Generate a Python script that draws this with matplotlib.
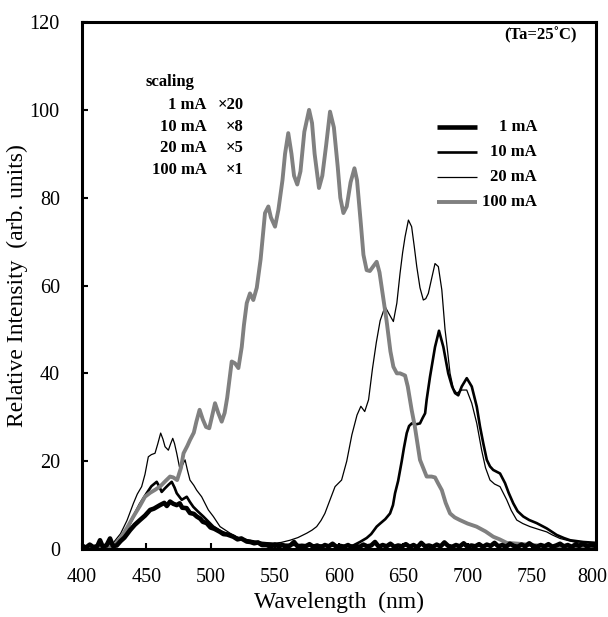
import matplotlib
matplotlib.use("Agg")
import matplotlib.pyplot as plt
from matplotlib.transforms import ScaledTranslation

plt.rcParams["font.family"] = ["Liberation Serif", "DejaVu Serif"]

# spectra read at irregular wavelengths (nm) -> relative intensity
wl_1mA = [400, 403, 406, 409, 412, 414, 416, 419, 421.8, 424, 427, 430, 433, 437.4, 441, 445.1,
          449, 453, 456, 460.7, 464, 466, 468.5, 471, 473.7, 476, 478, 481.4, 484, 487, 489.3,
          492, 494, 497, 500, 503, 507.4, 510, 513, 517.7, 521, 524, 528.2, 531, 534, 537, 540,
          543.7, 547, 550, 553, 556, 559, 562, 565, 568, 571, 574, 577, 580, 583, 586, 589, 592,
          595, 598, 601, 604, 607, 610, 613, 616, 619, 622, 625, 628, 631, 634, 637, 640, 643,
          646, 649, 652, 655, 658, 661, 664, 667, 670, 673, 676, 679, 682, 685, 688, 691, 694,
          697, 700, 703, 706, 709, 712, 715, 718, 721, 724, 727, 730, 733, 736, 739, 742, 745,
          748, 751, 754, 757, 760, 763, 766, 769, 772, 775, 778, 781, 784, 787, 790, 793, 796, 800]
int_1mA = [0.8, 0.3, 1.0, 0.4, 0.7, 2.0, 0.6, 0.8, 2.4, 0.7, 0.8, 1.8, 2.6, 4.3, 5.5, 6.6,
           7.6, 8.9, 9.2, 10.0, 10.5, 9.8, 10.8, 10.3, 10.0, 10.4, 9.4, 9.3, 8.2, 8.0, 7.4,
           6.9, 6.2, 5.9, 4.9, 4.6, 3.9, 3.4, 3.3, 2.8, 2.2, 2.4, 1.7, 1.6, 1.3, 1.5, 0.9,
           0.9, 0.5, 1.0, 0.6, 0.9, 0.4, 0.8, 1.6, 0.5, 0.7, 0.6, 1.1, 0.5, 0.8, 0.4, 0.9, 0.6,
           1.2, 0.5, 0.7, 0.5, 0.9, 0.4, 0.7, 0.5, 1.0, 0.6, 0.8, 1.6, 0.5, 0.9, 0.6, 1.2, 0.5,
           0.8, 0.6, 1.1, 0.5, 0.9, 0.4, 1.4, 0.6, 0.8, 0.5, 1.0, 0.6, 1.5, 0.7, 0.5, 0.9, 0.6,
           1.3, 0.5, 0.8, 0.6, 1.1, 0.5, 1.0, 0.7, 1.4, 0.6, 0.9, 0.5, 1.2, 0.7, 0.5, 1.0, 0.6,
           1.3, 0.7, 0.5, 0.9, 0.6, 1.1, 0.5, 0.8, 1.2, 0.6, 0.9, 0.5, 1.0, 0.7, 1.2, 0.6, 0.9, 0.7]

wl_10mA = [400, 410, 418, 425.7, 430, 435, 440, 445, 450.3, 454, 458.1, 460, 462, 464.5, 467.2,
           469.8, 472, 473.7, 477.6, 481.5, 484, 486.6, 490, 494.4, 502.2, 508, 515.2, 521,
           528.2, 540, 555, 570, 585, 600, 611, 616.3, 621.5, 625, 629.3, 632, 636, 639.7, 642,
           643.6, 646, 648.8, 650.5, 652.7, 654.5, 656.6, 660, 663, 665, 667, 668.2, 670.8,
           674.7, 677.8, 681.2, 685, 688, 690.3, 692.8, 695.5, 699.4, 703.3, 707.2, 709.7,
           712.3, 715, 717.5, 720, 725.3, 729.2, 732, 735.6, 739, 743.4, 748, 753.8, 761.6,
           769.4, 775, 779.8, 790, 800]
int_10mA = [0.4, 0.5, 0.6, 0.6, 2.2, 4.5, 7.4, 10.2, 12.7, 14.3, 15.3, 14.3, 13.0, 13.8, 14.6,
            15.3, 14.0, 12.7, 11.2, 11.9, 10.7, 9.6, 8.6, 7.4, 5.1, 4.0, 3.2, 2.5,
            2.0, 1.4, 1.0, 0.9, 0.8, 0.7, 0.8, 1.6, 2.5, 3.4, 5.1, 5.8, 6.8, 8.1, 10.0,
            12.7, 15.5, 20.0, 23.0, 26.4, 28.0, 28.6, 28.4, 28.6, 29.8, 30.9, 34.0, 39.2,
            46.0, 49.7, 46.0, 40.0, 37.0, 35.5, 35.0, 37.0, 38.9, 37.0, 32.4, 27.9,
            24.0, 20.3, 18.8, 18.0, 17.2, 15.0, 12.8, 10.4, 8.6, 7.4, 6.6, 5.9, 4.7,
            3.2, 2.5, 2.0, 1.6, 1.4]

wl_20mA = [400, 410, 418, 424, 430, 435, 440, 443, 446.4, 449, 451.6, 454, 456.8, 459, 461.2,
           463, 464.6, 467.2, 469, 470.6, 472, 473.7, 476.3, 478, 480.2, 482, 484, 487, 489.2,
           493.1, 498.3, 502.2, 507.4, 515.2, 521, 528.2, 535, 542, 548.9, 555, 561.9, 568,
           574.9, 579, 582.6, 586, 589, 593, 596.9, 602, 606, 610, 614, 617, 620, 623, 626,
           629, 632, 635.8, 639, 642.3, 645, 647.5, 649.5, 651.4, 654, 656.5, 658.5, 660.5,
           663, 665.6, 667.5, 669.5, 672, 674.7, 677.3, 680, 682.5, 684.5, 686.4, 689, 691.6,
           695.5, 699.4, 703.3, 707.2, 711, 714, 717.5, 721, 725.3, 730.5, 734, 738.3, 743,
           748.6, 755, 761.6, 766, 772, 780, 787.5, 795, 800]
int_20mA = [0.3, 0.5, 0.5, 1.3, 3.5, 6.5, 10.4, 12.5, 14.2, 17.0, 21.0, 21.5, 21.8, 24.0, 26.4,
            25.0, 23.3, 22.5, 24.0, 25.2, 24.0, 21.8, 18.0, 19.0, 20.3, 18.0, 15.7, 14.5, 13.4,
            11.9, 8.9, 7.4, 5.1, 3.6, 2.7, 2.0, 1.6, 1.4, 1.3, 1.5, 2.0, 2.6,
            3.6, 4.3, 5.1, 6.5, 8.1, 11.2, 14.2, 15.7, 20.0, 26.0, 30.5, 32.5, 31.3, 34.0, 41.0,
            47.0, 52.0, 55.2, 53.5, 51.8, 56.0, 62.8, 67.5, 71.1, 74.9, 73.4, 69.0, 64.3,
            59.5, 56.7, 57.0, 58.2, 61.5, 65.0, 64.3, 59.0, 50.0, 45.0, 40.0, 36.5, 35.5,
            36.2, 36.2, 33.2, 28.6, 22.5, 18.5, 15.7, 14.8, 14.2, 11.2, 8.8, 6.6, 5.8,
            5.1, 4.5, 3.9, 3.2, 2.4, 1.8, 1.3, 1.1, 1.0]

wl_100mA = [400, 410, 420, 425, 430, 435, 440, 445, 449, 453, 457, 461, 465, 468.5, 471, 474,
            477, 479, 482, 484, 487, 489, 491.5, 494, 496.5, 499, 501, 503.5, 506, 508.7, 511,
            513, 516.5, 519, 521.7, 524.3, 526, 528.2, 530.7, 533.3, 536, 539, 542.4, 545, 547,
            550.2, 552.8, 556, 558, 560.5, 563, 565, 567.5, 570, 573, 576.7, 579, 581, 584.4,
            587, 590, 593, 596, 599, 601, 603.4, 606, 609, 612, 614, 617, 619, 621.5, 624, 627,
            629.3, 631.5, 634.5, 637, 640, 642.3, 645, 647.5, 651.4, 653.5, 656.5, 659, 663,
            668.2, 672, 674.7, 677, 680, 683, 686.4, 690, 694, 700, 707, 714, 720, 725, 730.5,
            740, 750, 760, 770, 780, 790, 800]
int_100mA = [0.3, 0.5, 0.4, 0.8, 2.5, 4.8, 7.4, 9.8, 11.9, 12.8, 13.5, 14.3, 15.5, 16.5, 16.3, 15.7,
             18.5, 21.8, 23.5, 24.8, 26.5, 29.0, 31.7, 29.5, 27.8, 27.5, 30.0, 33.2, 31.0, 29.0, 31.0,
             34.5, 42.7, 42.3, 41.2, 46.0, 51.0, 56.0, 58.2, 56.7, 59.5, 66.0, 76.5, 78.0, 75.5,
             73.4, 77.2, 84.0, 90.0, 94.7, 90.0, 85.0, 83.0, 86.0, 95.0, 100.0, 97.0, 90.0, 82.2,
             85.0, 92.0, 99.6, 96.0, 87.0, 80.0, 76.5, 78.0, 83.5, 86.7, 84.0, 74.0, 67.0, 63.5, 63.3, 64.5,
             65.4, 63.0, 57.0, 52.0, 45.0, 41.5, 40.0, 40.0, 39.5, 37.0, 31.7, 27.9, 20.3,
             16.5, 16.5, 16.3, 15.0, 13.4, 10.5, 8.1, 7.2, 6.6, 5.8, 5.1, 4.0, 2.8, 2.2, 1.4,
             1.2, 0.9, 0.7, 0.6, 0.5, 0.6, 0.5]

currents = ["1 mA", "10 mA", "20 mA", "100 mA"]
scale_factors = [20, 8, 5, 1]

series = [
    (wl_20mA, int_20mA, dict(color="black", lw=0.9), "20 mA"),
    (wl_10mA, int_10mA, dict(color="black", lw=1.9), "10 mA"),
    (wl_100mA, int_100mA, dict(color="#808080", lw=2.8), "100 mA"),
    (wl_1mA, int_1mA, dict(color="black", lw=3.3), "1 mA"),
]

fig = plt.figure(figsize=(6.08, 6.17), dpi=100)
ax = fig.add_axes([0.1349, 0.1102, 0.8454, 0.8541])

styles = {}
for x, y, kw, name in series:
    ax.plot(x, y, solid_joinstyle="round", **kw)
    styles[name] = kw

ax.set_xlim(400, 800)
ax.set_ylim(0, 120)
ax.set_xticks(range(400, 801, 50))
ax.set_yticks(range(0, 121, 20))
ax.tick_params(direction="in", length=4, width=1.5, labelsize=14.5, pad=16,
               top=False, right=False)
ax.tick_params(axis="x", pad=14)
for sp in ax.spines.values():
    sp.set_linewidth(2.2)

# nudge the last x label so it stays inside the canvas
last = ax.get_xticklabels()[-1]
last.set_transform(last.get_transform() + ScaledTranslation(-3 / 72, 0, fig.dpi_scale_trans))

ax.set_xlabel("Wavelength  (nm)", fontsize=17, labelpad=3)
ax.set_ylabel("Relative Intensity  (arb. units)", fontsize=17)
ax.yaxis.set_label_coords(-0.105, 0.5)

# hand-made key on the right
bold = dict(fontsize=12, fontweight="bold", transform=ax.transAxes)
key_rows = [0.801, 0.753, 0.706, 0.658]
for name, yk in zip(currents, key_rows):
    kw = styles[name]
    ax.plot([0.690, 0.768], [yk, yk], transform=ax.transAxes, color=kw["color"],
            lw=kw["lw"], solid_capstyle="butt")
    ax.text(0.885, yk, name, ha="right", va="center", **bold)

# scaling factors block
ax.text(0.1226, 0.886, "scaling", ha="left", va="center", **bold)
scale_rows = [0.8425, 0.8013, 0.7609, 0.7192]
for name, f, yk in zip(currents, scale_factors, scale_rows):
    ax.text(0.2426, yk, name, ha="right", va="center", **bold)
    ax.text(0.315, yk, f"×{f}", ha="right", va="center", **bold)

ax.text(0.962, 0.975, "(Ta=25˚C)", ha="right", va="center", **bold)

fig.savefig("out.png", dpi=100)
